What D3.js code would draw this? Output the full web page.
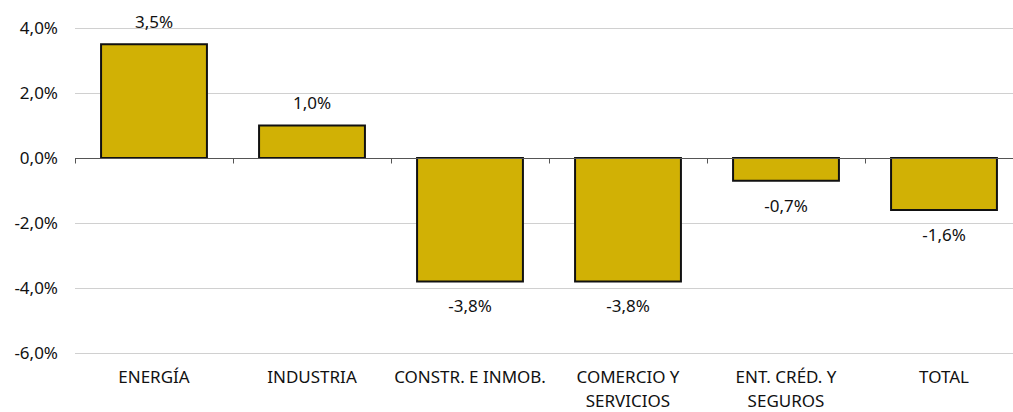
<!DOCTYPE html>
<html><head><meta charset="utf-8">
<script src="https://cdn.jsdelivr.net/npm/d3@7/dist/d3.min.js"></script>
<style>body{margin:0;background:#fff}svg{display:block}text{font-family:"Noto Sans",sans-serif;fill:#111}</style>
</head><body><svg id="c" width="1013" height="412"></svg>
<script>
const categories = [["ENERGÍA"],["INDUSTRIA"],["CONSTR. E INMOB."],["COMERCIO Y","SERVICIOS"],["ENT. CRÉD. Y","SEGUROS"],["TOTAL"]];
const values = [3.5, 1.0, -3.8, -3.8, -0.7, -1.6];
const yTicks = [4, 2, 0, -2, -4, -6];

const svg = d3.select("#c");
const W = 1013;
const FS = "17px";
const x = d3.scaleBand().domain(d3.range(categories.length)).range([75, 1023]).paddingInner(0.33).paddingOuter(0.165);
const y = d3.scaleLinear().domain([-6, 4]).range([353, 28]);
const fmt = v => v.toFixed(1).replace(".", ",") + "%";

// gridlines
svg.append("g").selectAll("line").data(yTicks.filter(d => d !== 0)).join("line")
  .attr("x1", 75).attr("x2", W).attr("y1", d => Math.round(y(d)) + 0.5).attr("y2", d => Math.round(y(d)) + 0.5)
  .attr("stroke", "#d0d0d0").attr("stroke-width", 1);

// y tick labels
svg.append("g").selectAll("text").data(yTicks).join("text")
  .attr("x", 58).attr("y", d => y(d)).attr("dy", "0.35em").attr("text-anchor", "end")
  .style("font-size", FS).text(d => fmt(d));

// bars
svg.append("g").selectAll("rect").data(values).join("rect")
  .attr("x", (d, i) => x(i)).attr("width", x.bandwidth())
  .attr("y", d => y(Math.max(0, d))).attr("height", d => Math.abs(y(d) - y(0)))
  .attr("fill", "#d1b105").attr("stroke", "#111").attr("stroke-width", 2);

// zero axis
const zy = Math.round(y(0)) + 0.5;
svg.append("line").attr("x1", 75).attr("x2", W).attr("y1", zy).attr("y2", zy).attr("stroke", "#555").attr("stroke-width", 1);
svg.append("g").selectAll("line").data(d3.range(categories.length + 1)).join("line")
  .attr("x1", i => 75 + i * x.step() + 0.5).attr("x2", i => 75 + i * x.step() + 0.5)
  .attr("y1", zy).attr("y2", zy + 5).attr("stroke", "#555");

// value labels
svg.append("g").selectAll("text").data(values).join("text")
  .attr("x", (d, i) => x(i) + x.bandwidth() / 2)
  .attr("y", d => d >= 0 ? y(d) - 22 : y(d) + 25)
  .attr("dy", "0.35em").attr("text-anchor", "middle").style("font-size", FS).text(d => fmt(d));

// category labels (one text element per line)
const lines = categories.flatMap((c, i) => c.map((t, j) => ({ t, i, j })));
svg.append("g").selectAll("text").data(lines).join("text")
  .attr("x", d => x(d.i) + x.bandwidth() / 2).attr("y", d => 383 + d.j * 24)
  .attr("text-anchor", "middle").style("font-size", FS).text(d => d.t);
</script></body></html>
